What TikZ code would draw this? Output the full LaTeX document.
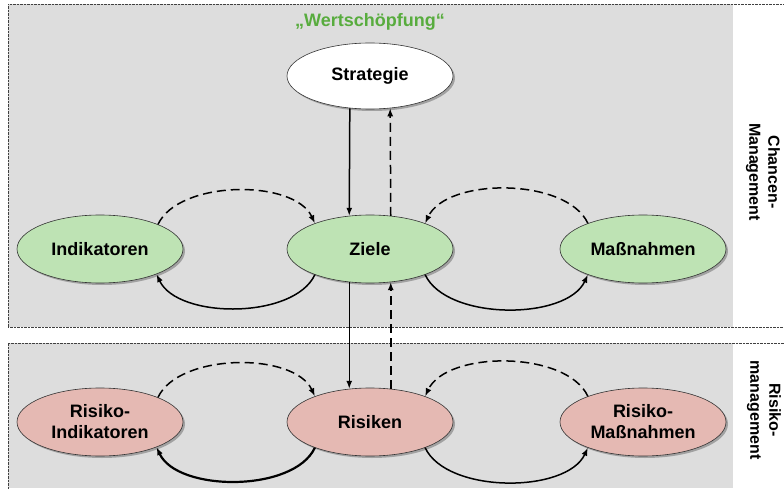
\documentclass[tikz,border=0pt]{standalone}
\usepackage{fontspec}
\setmainfont{Liberation Sans}
\usetikzlibrary{arrows.meta,shapes.geometric,shadows}
\definecolor{panelgray}{RGB}{221,221,221}
\definecolor{chancegreen}{RGB}{190,227,180}
\definecolor{risikored}{RGB}{229,185,179}
\definecolor{titlegreen}{RGB}{88,172,62}
\tikzset{
  oval/.style={ellipse, draw=black!80, line width=0.6pt, minimum width=166pt, minimum height=68pt,
    inner sep=0pt, align=center, font=\fontsize{18}{21}\selectfont\bfseries,
    drop shadow={shadow xshift=2pt, shadow yshift=-2pt, fill=black!60, opacity=0.5}},
  flow/.style={line width=1.5pt, -{Latex[length=8pt,width=6pt]}},
  back/.style={flow, dash pattern=on 9pt off 5pt},
  panel/.style={draw=black!75, line width=0.5pt, dash pattern=on 0.7pt off 0.7pt},
  sidelabel/.style={rotate=-90, align=center, font=\fontsize{16}{19}\selectfont\bfseries},
}
\begin{document}
\begin{tikzpicture}[x=1pt, y=1pt]
    \useasboundingbox (0,0) rectangle (784,488);
    \fill[panelgray] (8,161) rectangle (733,484);
    \fill[panelgray] (8,0) rectangle (733,145);
    \draw[panel] (8,161) rectangle (790,484);
    \draw[panel] (8,-5) rectangle (790,145);
    \node[text=titlegreen, font=\fontsize{18}{21}\selectfont\bfseries] (wert) at (370,466) {„Wertschöpfung“};
    \node[oval, fill=white, minimum height=66pt] (strategie) at (370,412) {Strategie};
    \node[oval, fill=chancegreen] (indikatoren) at (100,239) {Indikatoren};
    \node[oval, fill=chancegreen] (ziele) at (370,239) {Ziele};
    \node[oval, fill=chancegreen] (massnahmen) at (643,239) {Maßnahmen};
    \node[oval, fill=risikored] (rindikatoren) at (100,66) {Risiko-\\Indikatoren};
    \node[oval, fill=risikored] (risiken) at (370,66) {Risiken};
    \node[oval, fill=risikored] (rmassnahmen) at (643,66) {Risiko-\\Maßnahmen};
    \node[sidelabel] (chancen) at (763,316) {Chancen-\\Management};
    \node[sidelabel] (risiko) at (764,78) {Risiko-\\management};
    \draw[flow] (strategie.238) -- (ziele.122);
    \draw[back] (ziele.58) -- (strategie.302);
    \draw[flow] (ziele.238) -- (risiken.122);
    \draw[back] (risiken.58) -- (ziele.302);
    \draw[back] (indikatoren.23) to[out=65, in=115, looseness=0.8] (ziele.155);
    \draw[flow] (ziele.205) to[out=-115, in=-65, looseness=0.8] (indikatoren.336);
    \draw[back] (massnahmen.155) to[out=115, in=65, looseness=0.8] (ziele.25);
    \draw[flow] (ziele.335) to[out=-65, in=-115, looseness=0.8] (massnahmen.205);
    \draw[back] (rindikatoren.23) to[out=65, in=115, looseness=0.8] (risiken.155);
    \draw[flow, line width=2.2pt] (risiken.205) to[out=-115, in=-65, looseness=0.8] (rindikatoren.336);
    \draw[back] (rmassnahmen.155) to[out=115, in=65, looseness=0.8] (risiken.25);
    \draw[flow] (risiken.335) to[out=-65, in=-115, looseness=0.8] (rmassnahmen.205);
\end{tikzpicture}
\end{document}
